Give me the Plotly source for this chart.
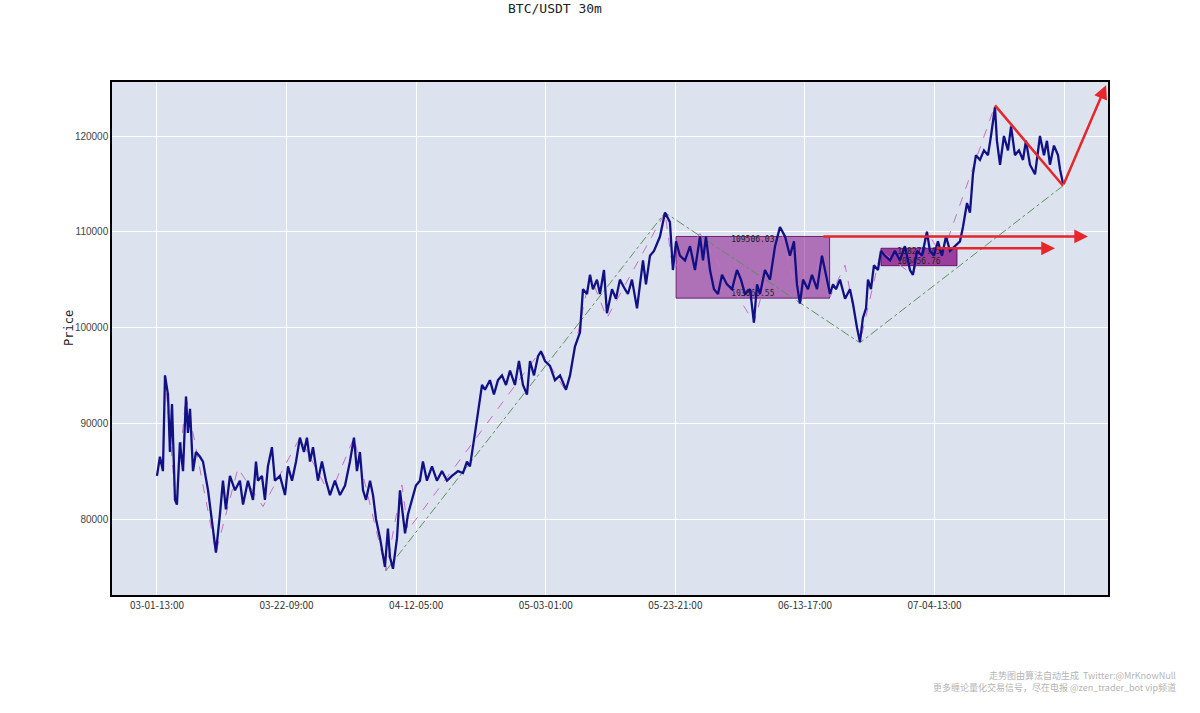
import plotly.graph_objects as go

# ---------------- data (bar index = 30-minute bars since 03-01 13:00) ----------------
bar_idx = [0, 23, 46, 62, 85, 100, 116, 139, 154, 177, 201, 224, 239, 255, 278, 301, 332, 355, 394, 424,
           455, 486, 509, 532, 563, 602, 640, 664, 702, 741, 764, 779, 810, 833, 856, 887, 910, 949, 988, 1011,
           1042, 1073, 1103, 1134, 1157, 1181, 1204, 1242, 1273, 1304, 1335, 1373, 1412, 1451, 1489, 1520, 1543, 1566, 1590, 1613,
           1644, 1667, 1690, 1721, 1759, 1782, 1798, 1821, 1852, 1875, 1898, 1914, 1937, 1968, 1998, 2029, 2052, 2083, 2122, 2160,
           2199, 2238, 2276, 2323, 2361, 2392, 2415, 2454, 2477, 2508, 2531, 2569, 2600, 2631, 2662, 2693, 2724, 2762, 2793, 2824,
           2855, 2878, 2909, 2940, 2963, 2994, 3032, 3071, 3110, 3156, 3187, 3225, 3264, 3287, 3318, 3341, 3364, 3395, 3418, 3449,
           3472, 3511, 3542, 3572, 3611, 3634, 3665, 3704, 3727, 3750, 3773, 3804, 3835, 3881, 3920, 3958, 3981, 4005, 4035, 4074,
           4113, 4151, 4190, 4213, 4236, 4267, 4298, 4329, 4360, 4398, 4437, 4475, 4506, 4537, 4576, 4606, 4630, 4653, 4691, 4730,
           4769, 4807, 4846, 4884, 4915, 4938, 4961, 4985, 5023, 5054, 5093, 5131, 5162, 5193, 5216, 5239, 5270, 5309, 5347, 5370,
           5401, 5424, 5447, 5471, 5486, 5509, 5532, 5563, 5586, 5617, 5656, 5694, 5733, 5771, 5810, 5833, 5864, 5903, 5941, 5964,
           5995, 6026, 6057, 6088, 6119, 6157, 6196, 6219, 6250, 6273, 6296, 6319, 6350, 6381, 6412, 6435, 6466, 6481, 6505, 6535,
           6566, 6590, 6620, 6651, 6682, 6705, 6736, 6775, 6813, 6844, 6867, 6890, 6921, 6952, 6968, 6991]
price = [84500, 86500, 85000, 95000, 93000, 87000, 92000, 82000, 81500, 88000, 85000, 92800, 89000, 91500, 85000, 87000, 86500, 86000, 83000, 80000,
         76500, 80500, 84000, 81000, 84500, 83000, 84000, 81500, 84000, 82000, 86000, 84000, 84500, 82000, 85500, 87500, 84000, 84500, 82500, 85500,
         84000, 86000, 88500, 87000, 88500, 86000, 87500, 84000, 86000, 84000, 82500, 84000, 82500, 83500, 86000, 88500, 85000, 87000, 83000, 82000,
         84000, 82500, 80000, 78000, 75000, 79000, 76000, 74800, 78000, 83000, 80000, 78500, 80500, 82000, 83500, 84000, 86000, 84000, 85500, 84000,
         85000, 84000, 84500, 85000, 84800, 86000, 85500, 89000, 91000, 94000, 93500, 94500, 93000, 94500, 95000, 94000, 95500, 94000, 96500, 94000,
         93000, 96500, 95000, 97000, 97500, 96500, 96000, 94500, 95000, 93500, 95000, 98000, 99500, 104000, 103500, 105500, 104000, 105000, 103500, 106000,
         101500, 104000, 103000, 105000, 104000, 103500, 105000, 102000, 104500, 107000, 104500, 107500, 108000, 109500, 112000, 111000, 106000, 109000, 107500, 107000,
         108500, 106000, 109500, 107000, 109500, 106000, 104000, 103500, 105500, 104500, 104000, 106000, 105000, 103500, 104000, 100500, 104500, 103500, 106000, 105000,
         108500, 110500, 109500, 107500, 109000, 104500, 102500, 105000, 104000, 105500, 104000, 107500, 105500, 103500, 104500, 104000, 105000, 103000, 104000, 102500,
         100000, 98500, 101000, 102000, 105000, 104000, 106500, 106000, 108000, 107500, 107000, 108000, 107000, 108500, 106000, 105500, 108000, 107500, 110000, 108000,
         107500, 109000, 107500, 109500, 108000, 108500, 109000, 110500, 113000, 112000, 116000, 118000, 117500, 118500, 118000, 120000, 123000, 119500, 117000, 120000,
         118500, 121000, 118000, 118500, 117500, 119500, 117000, 116000, 120000, 118000, 119500, 117000, 119000, 118000, 116500, 115000]

# stroke ("bi") vertices
bi_idx = [62, 145, 224, 455, 625, 818, 1103, 1335, 1520, 1767, 1890, 1937, 2963, 3156, 3341, 3472, 3920, 3981, 4190,
          4606, 4807, 4961, 5131, 5193, 5309, 5424, 5586, 5833, 5941, 6057, 6466, 6991]
bi_price = [95000, 81700, 92800, 76500, 85300, 81300, 88500, 82500, 88500, 74600, 83550, 78850, 97600, 93300, 105500, 101000, 112000, 106000, 109800,
            100500, 110400, 102500, 107500, 103200, 106500, 98400, 108000, 105500, 110000, 107500, 123200, 114800]

# segment ("duan") vertices
seg_idx = [1767, 3920, 5424, 6991]
seg_price = [74600, 112000, 98400, 114800]

# pivot zones
zone_x0 = [4005, 5586]
zone_x1 = [5190, 6173]
zone_high = [109506.03, 108277.45]
zone_low = [103066.55, 106456.76]
zone_alpha = [0.5, 0.72]

# projection arrows
down_leg_idx = [6466, 6991]
down_leg_price = [123200, 114800]
arrows = [  # (start idx, start price, end idx, end price)
    (6991, 114800, 7323, 125300),
    (5131, 109506.03, 7184, 109506.03),
    (6003, 108277.45, 6929, 108277.45),
]

tick_vals = [0, 1000, 2000, 3000, 4000, 5000, 6000, 7000]
tick_text = ["03-01-13:00", "03-22-09:00", "04-12-05:00", "05-03-01:00",
             "05-23-21:00", "06-13-17:00", "07-04-13:00", ""]
y_ticks = [80000, 90000, 100000, 110000, 120000]

# ---------------- figure ----------------
fig = go.Figure()

# zone labels (behind the price line)
lab_x, lab_y, lab_t = [], [], []
for x0, x1, hi, lo in zip(zone_x0, zone_x1, zone_high, zone_low):
    lab_x += [(x0 + x1) / 2, (x0 + x1) / 2]
    lab_y += [hi, lo]
    lab_t += [f"{hi:.2f}", f"{lo:.2f}"]
fig.add_trace(go.Scatter(x=lab_x, y=lab_y, text=lab_t, mode="text",
                         textposition=["bottom center", "top center"] * len(zone_x0),
                         textfont=dict(size=8, color="#222", family="DejaVu Sans Mono"),
                         showlegend=False, hoverinfo="skip"))

fig.add_trace(go.Scatter(x=bi_idx, y=bi_price, mode="lines",
                         line=dict(color="#c46ec4", width=1, dash="dash"),
                         showlegend=False))
fig.add_trace(go.Scatter(x=seg_idx, y=seg_price, mode="lines",
                         line=dict(color="#5e8f62", width=1, dash="dashdot"),
                         showlegend=False))
fig.add_trace(go.Scatter(x=bar_idx, y=price, mode="lines",
                         line=dict(color="#111185", width=2.3),
                         showlegend=False))
fig.add_trace(go.Scatter(x=down_leg_idx, y=down_leg_price, mode="lines",
                         line=dict(color="#e5262a", width=2.5), showlegend=False))

for x0, x1, hi, lo, a in zip(zone_x0, zone_x1, zone_high, zone_low, zone_alpha):
    fig.add_shape(type="rect", x0=x0, x1=x1, y0=lo, y1=hi, layer="between",
                  fillcolor=f"rgba(128,0,128,{a})",
                  line=dict(color="rgba(90,0,90,0.8)", width=1))

for sx, sy, ex, ey in arrows:
    fig.add_annotation(x=ex, y=ey, ax=sx, ay=sy, xref="x", yref="y", axref="x", ayref="y",
                       showarrow=True, arrowhead=2, arrowsize=1.1, arrowwidth=2.5,
                       arrowcolor="#e5262a", text="")

fig.add_annotation(text="走势图由算法自动生成  Twitter:@MrKnowNull", xref="paper", yref="paper",
                   x=1.0703, y=-0.157, xanchor="right", yanchor="middle", showarrow=False,
                   font=dict(size=9, color="#b4b4b4", family="Noto Sans CJK SC"))
fig.add_annotation(text="更多缠论量化交易信号，尽在电报 @zen_trader_bot vip频道", xref="paper", yref="paper",
                   x=1.0703, y=-0.181, xanchor="right", yanchor="middle", showarrow=False,
                   font=dict(size=9, color="#b4b4b4", family="Noto Sans CJK SC"))
fig.add_annotation(text="Price", textangle=-90, xref="paper", yref="paper",
                   x=-0.0432, y=0.5205, xanchor="center", yanchor="middle", showarrow=False,
                   font=dict(size=12, color="#222", family="DejaVu Sans Mono"))

fig.update_layout(
    width=1200, height=713,
    margin=dict(l=112, r=92, t=82, b=118),
    paper_bgcolor="white", plot_bgcolor="#dde3ee",
    title=dict(text="BTC/USDT 30m", x=0.4625, xanchor="center", y=1 - 8 / 713, yanchor="middle",
               font=dict(size=13, color="#222", family="DejaVu Sans Mono")),
    showlegend=False,
)
fig.update_xaxes(range=[-347, 7338], tickvals=tick_vals, ticktext=tick_text,
                 showgrid=True, gridcolor="white", gridwidth=1, zeroline=False,
                 showline=True, linecolor="black", linewidth=1.5, mirror=True,
                 ticks="", tickfont=dict(size=10, color="#333", family="Noto Sans CJK SC"))
fig.update_yaxes(range=[72063, 125640], tickvals=y_ticks,
                 ticktext=[str(v) for v in y_ticks],
                 showgrid=True, gridcolor="white", gridwidth=1, zeroline=False,
                 showline=True, linecolor="black", linewidth=1.5, mirror=True,
                 ticks="", tickfont=dict(size=10, color="#444", family="Liberation Sans"))

fig.write_html("out.html", config={"displayModeBar": False},
               post_script="document.body.style.margin='0px';")
